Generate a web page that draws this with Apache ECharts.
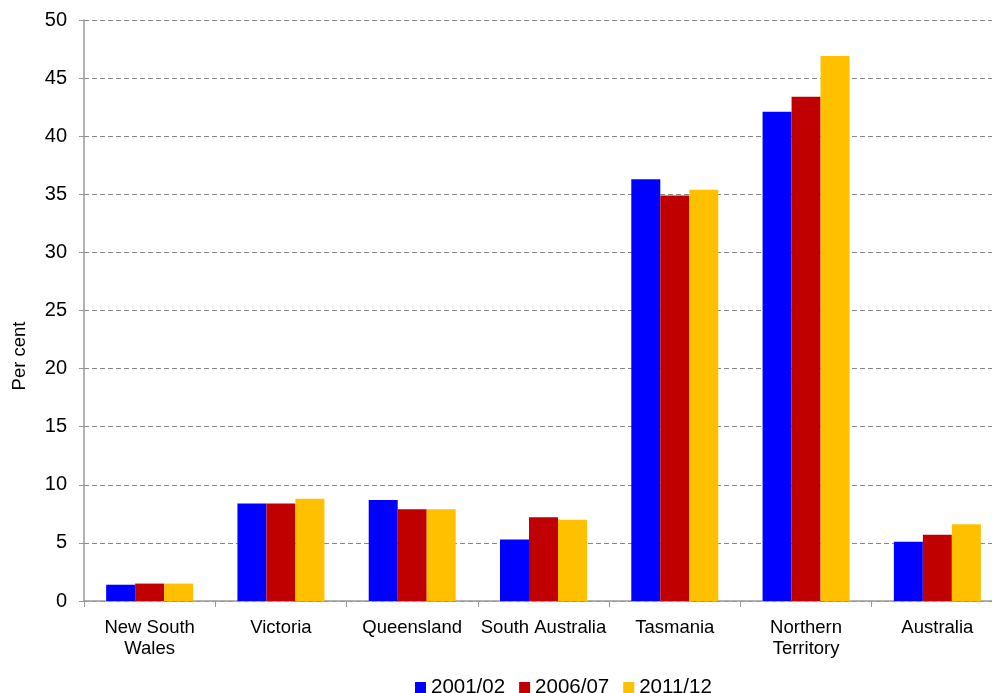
<!DOCTYPE html>
<html>
<head>
<meta charset="utf-8">
<script src="https://cdn.jsdelivr.net/npm/echarts@6/dist/echarts.min.js"></script>
<style>
  html, body { margin: 0; padding: 0; background: #fff; }
  #chart { width: 992px; height: 693px; }
</style>
</head>
<body>
<div id="chart"></div>
<script>
  // jurisdictions
  var categories = ['New South\nWales', 'Victoria', 'Queensland', 'South Australia', 'Tasmania', 'Northern\nTerritory', 'Australia'];
  // per cent
  var y2001 = [1.4, 8.4, 8.7, 5.3, 36.3, 42.1, 5.1];
  var y2006 = [1.5, 8.4, 7.9, 7.2, 34.9, 43.4, 5.7];
  var y2011 = [1.5, 8.8, 7.9, 7.0, 35.4, 46.9, 6.6];
  var yTicks = [0, 5, 10, 15, 20, 25, 30, 35, 40, 45, 50];

  var font = 'Liberation Sans, Arial, sans-serif';
  var chart = echarts.init(document.getElementById('chart'));

  function bar(name, data, color) {
    return {
      name: name,
      type: 'bar',
      barWidth: 29,
      barGap: '0%',
      itemStyle: { color: color },
      data: data
    };
  }

  chart.setOption({
    animation: false,
    textStyle: { fontFamily: font },
    // plot runs past the right edge, like the cropped original
    grid: { left: 84, top: 20, width: 919, height: 581, containLabel: false, outerBoundsMode: 'none' },
    graphic: [{
      type: 'text',
      x: 20,
      y: 356,
      rotation: Math.PI / 2,
      style: {
        text: 'Per cent',
        font: '18.5px ' + font,
        fill: '#000',
        align: 'center',
        verticalAlign: 'middle'
      }
    }],
    legend: {
      top: 672,
      left: 410,
      itemWidth: 11,
      itemHeight: 11,
      itemGap: 14,
      icon: 'rect',
      textStyle: { fontSize: 20.5, lineHeight: 21, color: '#000' },
      data: ['2001/02', '2006/07', '2011/12']
    },
    xAxis: {
      type: 'category',
      data: categories,
      axisLine: { lineStyle: { color: '#999', width: 1.5 } },
      axisTick: { show: true, length: 6, lineStyle: { color: '#999' } },
      axisLabel: { color: '#000', fontSize: 18.5, margin: 16, lineHeight: 21, interval: 0 }
    },
    yAxis: {
      type: 'value',
      min: 0,
      max: yTicks[yTicks.length - 1],
      interval: 5,
      axisLine: { show: true, lineStyle: { color: '#999', width: 1.5 } },
      axisTick: { show: true, inside: false, length: 5, lineStyle: { color: '#999' } },
      axisLabel: { color: '#000', fontSize: 20, margin: 17 },
      splitLine: { lineStyle: { color: '#888', type: [5, 3], width: 1.2 } }
    },
    series: [
      bar('2001/02', y2001, '#0000ff'),
      bar('2006/07', y2006, '#c00000'),
      bar('2011/12', y2011, '#ffc000')
    ]
  });
</script>
</body>
</html>
